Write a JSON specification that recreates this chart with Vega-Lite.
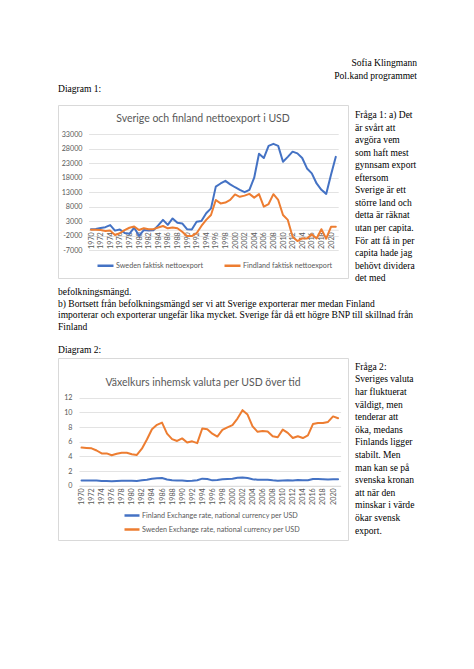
{
  "$schema": "https://vega.github.io/schema/vega-lite/v6.json",
  "background": "white",
  "padding": {"left": 57, "top": 0, "right": 0, "bottom": 0},
  "bounds": "flush",
  "columns": 2,
  "spacing": {"row": 0, "column": 7},
  "config": {
    "view": {"stroke": null},
    "text": {"font": "Liberation Serif", "fontSize": 9.55, "fill": "#000000", "baseline": "middle"},
    "title": {"font": "Lato", "fontSize": 10.5, "fontWeight": "normal", "color": "#595959", "anchor": "middle"},
    "axis": {"labelFont": "Lato", "labelFontSize": 7.2, "labelColor": "#595959", "ticks": false, "title": null}
  },
  "datasets": {
    "doc": [
      {"block": "author", "line": 0, "text": "Sofia Klingmann"},
      {"block": "author", "line": 1, "text": "Pol.kand programmet"},
      {"block": "diag1", "line": 2, "text": "Diagram 1:"},
      {"block": "side1", "line": 0, "text": "Fråga 1: a) Det"},
      {"block": "side1", "line": 1, "text": "är svårt att"},
      {"block": "side1", "line": 2, "text": "avgöra vem"},
      {"block": "side1", "line": 3, "text": "som haft mest"},
      {"block": "side1", "line": 4, "text": "gynnsam export"},
      {"block": "side1", "line": 5, "text": "eftersom"},
      {"block": "side1", "line": 6, "text": "Sverige är ett"},
      {"block": "side1", "line": 7, "text": "större land och"},
      {"block": "side1", "line": 8, "text": "detta är räknat"},
      {"block": "side1", "line": 9, "text": "utan per capita."},
      {"block": "side1", "line": 10, "text": "För att få in per"},
      {"block": "side1", "line": 11, "text": "capita hade jag"},
      {"block": "side1", "line": 12, "text": "behövt dividera"},
      {"block": "side1", "line": 13, "text": "det med"},
      {"block": "para", "line": 0, "text": "befolkningsmängd."},
      {"block": "para", "line": 1, "text": "b) Bortsett från befolkningsmängd ser vi att Sverige exporterar mer medan Finland"},
      {"block": "para", "line": 2, "text": "importerar och exporterar ungefär lika mycket. Sverige får då ett högre BNP till skillnad från"},
      {"block": "para", "line": 3, "text": "Finland"},
      {"block": "para", "line": 5, "text": "Diagram 2:"},
      {"block": "side2", "line": 0, "text": "Fråga 2:"},
      {"block": "side2", "line": 1, "text": "Sveriges valuta"},
      {"block": "side2", "line": 2, "text": "har fluktuerat"},
      {"block": "side2", "line": 3, "text": "väldigt, men"},
      {"block": "side2", "line": 4, "text": "tenderar att"},
      {"block": "side2", "line": 5, "text": "öka, medans"},
      {"block": "side2", "line": 6, "text": "Finlands ligger"},
      {"block": "side2", "line": 7, "text": "stabilt. Men"},
      {"block": "side2", "line": 8, "text": "man kan se på"},
      {"block": "side2", "line": 9, "text": "svenska kronan"},
      {"block": "side2", "line": 10, "text": "att när den"},
      {"block": "side2", "line": 11, "text": "minskar i värde"},
      {"block": "side2", "line": 12, "text": "ökar svensk"},
      {"block": "side2", "line": 13, "text": "export."}
    ],
    "net": [
      {"year": 1970, "sweden": 200, "finland": 0},
      {"year": 1971, "sweden": 300, "finland": 0},
      {"year": 1972, "sweden": 600, "finland": -100},
      {"year": 1973, "sweden": 900, "finland": -400},
      {"year": 1974, "sweden": 1600, "finland": -300},
      {"year": 1975, "sweden": -300, "finland": -1800},
      {"year": 1976, "sweden": 100, "finland": -1200},
      {"year": 1977, "sweden": -1100, "finland": -100},
      {"year": 1978, "sweden": -1400, "finland": 700},
      {"year": 1979, "sweden": 700, "finland": 1100},
      {"year": 1980, "sweden": -2100, "finland": -100},
      {"year": 1981, "sweden": -100, "finland": 500},
      {"year": 1982, "sweden": -300, "finland": 200},
      {"year": 1983, "sweden": -200, "finland": 200},
      {"year": 1984, "sweden": 1500, "finland": 800},
      {"year": 1985, "sweden": 3400, "finland": 1300},
      {"year": 1986, "sweden": 1700, "finland": 500},
      {"year": 1987, "sweden": 3900, "finland": 800},
      {"year": 1988, "sweden": 2400, "finland": 500},
      {"year": 1989, "sweden": 2200, "finland": -700},
      {"year": 1990, "sweden": 200, "finland": -2200},
      {"year": 1991, "sweden": 100, "finland": -2200},
      {"year": 1992, "sweden": 2800, "finland": -1200},
      {"year": 1993, "sweden": 3000, "finland": 1300},
      {"year": 1994, "sweden": 5700, "finland": 3400},
      {"year": 1995, "sweden": 7400, "finland": 5100},
      {"year": 1996, "sweden": 14900, "finland": 10300},
      {"year": 1997, "sweden": 16000, "finland": 9100},
      {"year": 1998, "sweden": 16900, "finland": 9400},
      {"year": 1999, "sweden": 15700, "finland": 10300},
      {"year": 2000, "sweden": 14700, "finland": 12200},
      {"year": 2001, "sweden": 13800, "finland": 11400},
      {"year": 2002, "sweden": 13000, "finland": 11800},
      {"year": 2003, "sweden": 13800, "finland": 12400},
      {"year": 2004, "sweden": 18000, "finland": 11100},
      {"year": 2005, "sweden": 26300, "finland": 12300},
      {"year": 2006, "sweden": 24800, "finland": 8000},
      {"year": 2007, "sweden": 29000, "finland": 8900},
      {"year": 2008, "sweden": 29700, "finland": 12300},
      {"year": 2009, "sweden": 29000, "finland": 10300},
      {"year": 2010, "sweden": 23500, "finland": 5100},
      {"year": 2011, "sweden": 25200, "finland": 3400},
      {"year": 2012, "sweden": 27000, "finland": -2400},
      {"year": 2013, "sweden": 26400, "finland": -3900},
      {"year": 2014, "sweden": 24800, "finland": -3000},
      {"year": 2015, "sweden": 21200, "finland": -3000},
      {"year": 2016, "sweden": 19500, "finland": -1600},
      {"year": 2017, "sweden": 16000, "finland": -3000},
      {"year": 2018, "sweden": 13800, "finland": 200},
      {"year": 2019, "sweden": 12400, "finland": -3100},
      {"year": 2020, "sweden": 19000, "finland": 1000},
      {"year": 2021, "sweden": 25200, "finland": 1000}
    ],
    "fx": [
      {"year": 1970, "finland": 0.71, "sweden": 5.2},
      {"year": 1971, "finland": 0.71, "sweden": 5.15},
      {"year": 1972, "finland": 0.70, "sweden": 5.1},
      {"year": 1973, "finland": 0.70, "sweden": 4.8},
      {"year": 1974, "finland": 0.64, "sweden": 4.4},
      {"year": 1975, "finland": 0.63, "sweden": 4.4},
      {"year": 1976, "finland": 0.62, "sweden": 4.15},
      {"year": 1977, "finland": 0.65, "sweden": 4.35},
      {"year": 1978, "finland": 0.68, "sweden": 4.5},
      {"year": 1979, "finland": 0.69, "sweden": 4.5},
      {"year": 1980, "finland": 0.66, "sweden": 4.3},
      {"year": 1981, "finland": 0.63, "sweden": 4.2},
      {"year": 1982, "finland": 0.73, "sweden": 5.05},
      {"year": 1983, "finland": 0.81, "sweden": 6.3},
      {"year": 1984, "finland": 0.94, "sweden": 7.7},
      {"year": 1985, "finland": 1.01, "sweden": 8.3},
      {"year": 1986, "finland": 1.04, "sweden": 8.6},
      {"year": 1987, "finland": 0.85, "sweden": 7.1},
      {"year": 1988, "finland": 0.74, "sweden": 6.35},
      {"year": 1989, "finland": 0.70, "sweden": 6.1},
      {"year": 1990, "finland": 0.72, "sweden": 6.45},
      {"year": 1991, "finland": 0.64, "sweden": 5.9},
      {"year": 1992, "finland": 0.68, "sweden": 6.05},
      {"year": 1993, "finland": 0.75, "sweden": 5.8},
      {"year": 1994, "finland": 0.96, "sweden": 7.8},
      {"year": 1995, "finland": 0.91, "sweden": 7.7},
      {"year": 1996, "finland": 0.73, "sweden": 7.1},
      {"year": 1997, "finland": 0.78, "sweden": 6.7},
      {"year": 1998, "finland": 0.87, "sweden": 7.6},
      {"year": 1999, "finland": 0.90, "sweden": 7.95},
      {"year": 2000, "finland": 0.94, "sweden": 8.25},
      {"year": 2001, "finland": 1.09, "sweden": 9.15},
      {"year": 2002, "finland": 1.12, "sweden": 10.3},
      {"year": 2003, "finland": 1.06, "sweden": 9.7},
      {"year": 2004, "finland": 0.89, "sweden": 8.1},
      {"year": 2005, "finland": 0.80, "sweden": 7.35},
      {"year": 2006, "finland": 0.80, "sweden": 7.45},
      {"year": 2007, "finland": 0.80, "sweden": 7.4},
      {"year": 2008, "finland": 0.73, "sweden": 6.75},
      {"year": 2009, "finland": 0.68, "sweden": 6.6},
      {"year": 2010, "finland": 0.72, "sweden": 7.65},
      {"year": 2011, "finland": 0.75, "sweden": 7.2},
      {"year": 2012, "finland": 0.72, "sweden": 6.5},
      {"year": 2013, "finland": 0.78, "sweden": 6.75},
      {"year": 2014, "finland": 0.75, "sweden": 6.5},
      {"year": 2015, "finland": 0.75, "sweden": 6.85},
      {"year": 2016, "finland": 0.90, "sweden": 8.4},
      {"year": 2017, "finland": 0.90, "sweden": 8.55},
      {"year": 2018, "finland": 0.89, "sweden": 8.55},
      {"year": 2019, "finland": 0.85, "sweden": 8.7},
      {"year": 2020, "finland": 0.89, "sweden": 9.45},
      {"year": 2021, "finland": 0.88, "sweden": 9.2}
    ]
  },
  "resolve": {"scale": {"color": "independent"}, "legend": {"color": "independent"}},
  "concat": [
    {
      "width": 290,
      "height": 105,
      "data": {"name": "doc"},
      "transform": [{"filter": "datum.block == 'diag1'"}],
      "mark": {"type": "text", "x": 0, "align": "left"},
      "encoding": {
        "y": {"field": "line", "type": "quantitative", "scale": {"domain": [0, 2], "range": [63, 89]}, "axis": null},
        "text": {"field": "text"}
      }
    },
    {
      "width": 62,
      "height": 105,
      "data": {"name": "doc"},
      "transform": [{"filter": "datum.block == 'author'"}],
      "mark": {"type": "text", "x": "width", "align": "right"},
      "encoding": {
        "y": {"field": "line", "type": "quantitative", "scale": {"domain": [0, 2], "range": [63, 89]}, "axis": null},
        "text": {"field": "text"}
      }
    },
    {
      "width": 290,
      "height": 173,
      "view": {"stroke": "#d9d9d9", "strokeWidth": 1, "fill": "white"},
      "title": {"text": "Sverige och finland nettoexport i USD", "offset": -19},
      "data": {"name": "net"},
      "transform": [{"fold": ["sweden", "finland"], "as": ["series", "value"]}],
      "mark": {"type": "line", "strokeWidth": 2, "strokeJoin": "round", "strokeCap": "round"},
      "encoding": {
        "x": {
          "field": "year", "type": "quantitative",
          "scale": {"domain": [1969.5, 2021.5], "range": [30.6, 280.2], "nice": false, "zero": false},
          "axis": {"values": [1970, 1972, 1974, 1976, 1978, 1980, 1982, 1984, 1986, 1988, 1990, 1992, 1994, 1996, 1998, 2000, 2002, 2004, 2006, 2008, 2010, 2012, 2014, 2016, 2018, 2020], "format": "d", "labelAngle": -90, "offset": -48.25, "domainColor": "#d9d9d9", "domainWidth": 0.75, "grid": false, "labelPadding": 2}
        },
        "y": {
          "field": "value", "type": "quantitative",
          "scale": {"domain": [-7000, 33000], "range": [145, 29.3], "nice": false, "zero": false},
          "axis": {"values": [-7000, -2000, 3000, 8000, 13000, 18000, 23000, 28000, 33000], "labelExpr": "'' + datum.value", "offset": -26, "labelPadding": 2, "domain": false, "grid": true, "gridColor": "#d9d9d9", "gridWidth": 0.75}
        },
        "color": {
          "field": "series", "type": "nominal",
          "scale": {"domain": ["sweden", "finland"], "range": ["#4472C4", "#ED7D31"]},
          "legend": {"orient": "none", "legendX": 38, "legendY": 151, "direction": "horizontal", "title": null, "symbolType": "stroke", "symbolStrokeWidth": 2.5, "symbolSize": 256, "labelFont": "Lato", "labelFontSize": 7.2, "labelColor": "#595959", "labelOffset": 1, "columnPadding": 14, "labelExpr": "datum.value == 'sweden' ? 'Sweden  faktisk nettoexport' : 'Findland faktisk nettoexport'"}
        }
      }
    },
    {
      "width": 62,
      "height": 173,
      "data": {"name": "doc"},
      "transform": [{"filter": "datum.block == 'side1'"}],
      "mark": {"type": "text", "x": 0, "align": "left"},
      "encoding": {
        "y": {"field": "line", "type": "quantitative", "scale": {"domain": [0, 13], "range": [10, 173.3]}, "axis": null},
        "text": {"field": "text"}
      }
    },
    {
      "width": 290,
      "height": 80,
      "data": {"name": "doc"},
      "transform": [{"filter": "datum.block == 'para'"}],
      "mark": {"type": "text", "x": 0, "align": "left"},
      "encoding": {
        "y": {"field": "line", "type": "quantitative", "scale": {"domain": [0, 5], "range": [14, 72]}, "axis": null},
        "text": {"field": "text"}
      }
    },
    {
      "width": 62,
      "height": 80,
      "data": {"name": "doc"},
      "transform": [{"filter": "datum.block == 'blank'"}],
      "mark": {"type": "text", "x": 0, "align": "left"},
      "encoding": {
        "y": {"field": "line", "type": "quantitative", "scale": {"domain": [0, 5], "range": [14, 72]}, "axis": null},
        "text": {"field": "text"}
      }
    },
    {
      "width": 290,
      "height": 182,
      "view": {"stroke": "#d9d9d9", "strokeWidth": 1, "fill": "white"},
      "title": {"text": "Växelkurs inhemsk valuta per USD över tid", "offset": -30},
      "data": {"name": "fx"},
      "transform": [{"fold": ["finland", "sweden"], "as": ["series", "value"]}],
      "mark": {"type": "line", "strokeWidth": 2, "strokeJoin": "round", "strokeCap": "round"},
      "encoding": {
        "x": {
          "field": "year", "type": "quantitative",
          "scale": {"domain": [1969.5, 2021.5], "range": [21, 282.6], "nice": false, "zero": false},
          "axis": {"values": [1970, 1972, 1974, 1976, 1978, 1980, 1982, 1984, 1986, 1988, 1990, 1992, 1994, 1996, 1998, 2000, 2002, 2004, 2006, 2008, 2010, 2012, 2014, 2016, 2018, 2020], "format": "d", "labelAngle": -90, "offset": -54.3, "domainColor": "#d9d9d9", "domainWidth": 0.75, "grid": false, "labelPadding": 2}
        },
        "y": {
          "field": "value", "type": "quantitative",
          "scale": {"domain": [0, 12], "range": [127.7, 39.7], "nice": false, "zero": false},
          "axis": {"values": [0, 2, 4, 6, 8, 10, 12], "format": "d", "offset": -17, "labelPadding": 3, "domain": false, "grid": true, "gridColor": "#d9d9d9", "gridWidth": 0.75}
        },
        "color": {
          "field": "series", "type": "nominal",
          "scale": {"domain": ["finland", "sweden"], "range": ["#4472C4", "#ED7D31"]},
          "legend": {"orient": "none", "legendX": 65, "legendY": 148.5, "direction": "vertical", "title": null, "symbolType": "stroke", "symbolStrokeWidth": 2.5, "symbolSize": 225, "labelFont": "Lato", "labelFontSize": 7.2, "labelColor": "#595959", "labelOffset": 1, "rowPadding": -1, "labelExpr": "datum.value == 'finland' ? 'Finland Exchange rate, national currency per USD' : 'Sweden Exchange rate, national currency per USD'"}
        }
      }
    },
    {
      "width": 62,
      "height": 182,
      "data": {"name": "doc"},
      "transform": [{"filter": "datum.block == 'side2'"}],
      "mark": {"type": "text", "x": 0, "align": "left"},
      "encoding": {
        "y": {"field": "line", "type": "quantitative", "scale": {"domain": [0, 13], "range": [8.7, 172.7]}, "axis": null},
        "text": {"field": "text"}
      }
    }
  ]
}
